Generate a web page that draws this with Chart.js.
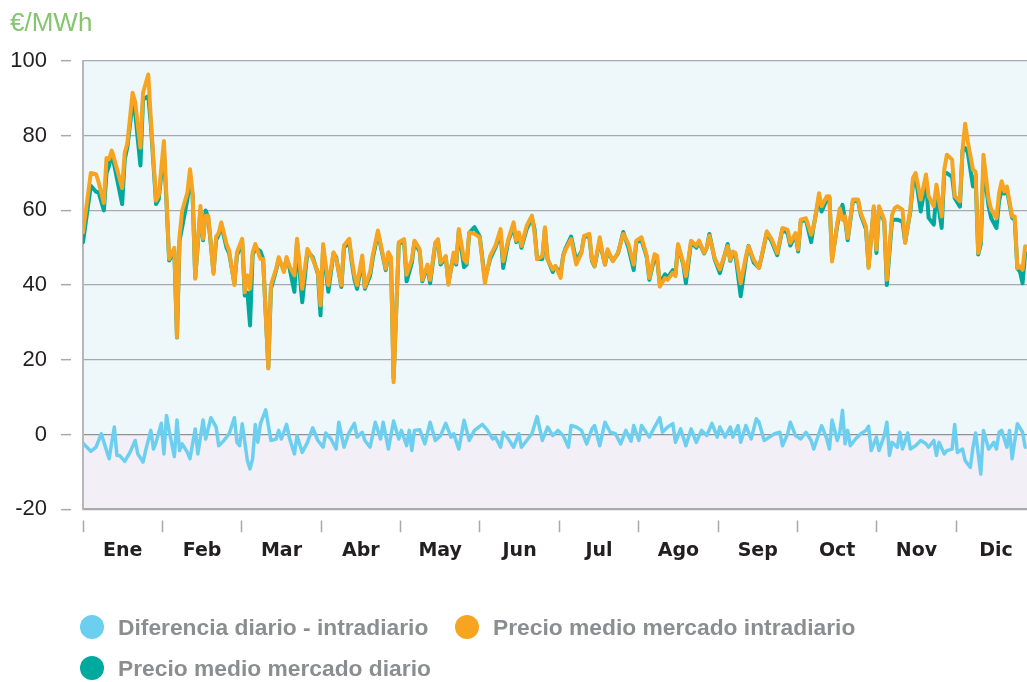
<!DOCTYPE html>
<html><head><meta charset="utf-8">
<script src="https://cdn.jsdelivr.net/npm/chart.js@4.4.1/dist/chart.umd.min.js"></script>
<style>
html,body{margin:0;padding:0;background:#fff;}
#wrap{position:relative;width:1027px;height:682px;overflow:hidden;}
canvas{display:block;}
.item{position:absolute;white-space:nowrap;display:flex;align-items:center;font-family:"Liberation Sans",Arial,sans-serif;font-weight:bold;font-size:22.8px;color:#8c8d91;height:24px;}
.dot{width:24px;height:24px;border-radius:50%;margin-right:14px;flex:none;}
</style></head><body>
<div id="wrap">
<canvas id="c" width="1027" height="682"></canvas>
<div class="item" style="left:80px;top:615px"><span class="dot" style="background:#6dcff0"></span>Diferencia diario - intradiario</div>
<div class="item" style="left:455px;top:615px"><span class="dot" style="background:#f7a520"></span>Precio medio mercado intradiario</div>
<div class="item" style="left:80px;top:656px"><span class="dot" style="background:#00a99d"></span>Precio medio mercado diario</div>
</div>
<script>
const meses = ['Ene','Feb','Mar','Abr','May','Jun','Jul','Ago','Sep','Oct','Nov','Dic'];
const yTicks = [-20, 0, 20, 40, 60, 80, 100];

// día del año de cada lectura de precio
const dias = [0,3,5,6,8,9,10,11,12,15,16,17,19,20,22,23,25,26,28,29,31,32,33,35,36,37,38,40,41,42,43,45,46,47,48,50,51,52,53,55,56,58,59,61,62,63,64,65,66,68,69,71,72,74,75,77,78,79,81,82,84,86,88,90,91,92,94,96,97,99,100,102,103,104,105,107,108,110,111,113,116,117,118,119,121,
123,124,126,127,129,130,132,133,135,136,137,139,140,142,143,144,146,147,148,150,152,154,156,158,160,161,163,165,166,167,168,170,172,173,174,176,177,178,180,181,183,184,185,187,189,191,192,194,195,196,198,199,200,201,203,205,207,209,211,212,214,216,217,219,220,221,223,224,226,227,228,230,231,233,235,236,238,239,240,242,244,
247,248,249,250,252,254,255,257,259,260,262,264,266,268,270,271,273,274,275,277,279,280,282,283,285,286,287,289,290,291,292,293,295,297,298,300,301,303,304,305,307,308,310,311,312,314,315,317,318,319,321,323,324,326,327,329,330,331,333,334,336,337,338,339,341,342,343,344,345,347,348,350,351,352,353,354,356,357,358,359,360,361];

const intradiario = [54.1,70,69.7,67.5,62,74,73.7,76,73.7,66,75.5,78,91.5,89,76.8,91.5,96.4,84.4,62.6,64,78.6,63,47,50,26.1,53.2,59.9,64.8,71,64.8,41.7,61.2,52.4,58.6,58.6,43,53,54,56.8,51,49.2,40,48.8,52.4,38.1,42.6,39,48.8,51,47,47,17.7,40,44.4,47.5,43.5,47.5,45.2,42.6,52.4,39,49.7,47,43.5,34.6,51,40,48.8,47,40,50.6,52.4,47,42.6,40,47.9,39.5,43.5,47.9,54.6,44.4,48.8,47.5,14,51.5,
52.3,42.8,46.9,51.9,49.6,41.4,45.5,41.4,51.4,52.3,46,47.8,40.1,48.7,46,55,46.9,46,54.1,53.7,52.8,40.5,47.8,50.5,55,46.4,52.3,56.8,51.9,54.1,50.5,55.9,58.6,54.1,46.9,47.8,55.5,46.9,44.2,45.1,41.9,47.8,49.6,52.3,45.5,48.7,53.2,53.7,46.9,45.1,52.8,48.7,45.5,49.6,46.4,48.7,53.7,51,45.5,51.9,52.8,47.8,41.9,48.3,47.8,39.6,41.9,41.4,43.3,42.4,51,46,42.4,51.9,50.5,51.9,48.7,50,53.2,47.3,44.2,
50.4,46.8,49,48.6,40.5,47.7,50.4,46.8,44.6,47.7,54.4,52.1,48.6,55.3,54.8,51.3,53.9,49.5,57.5,57.9,53.5,55.7,64.6,61.1,63.8,63.8,46.3,56.6,60.6,57.5,58.4,52.6,62.9,62.9,59.3,55.7,44.6,61.1,49.5,61.1,57.5,41.4,58.8,60.6,61.1,60.2,51.3,60.2,68.7,70,62.9,69.6,63.8,61.1,66.9,58.4,70.9,74.9,73.6,63.8,62.4,76.3,83.2,78.5,70.9,70.4,48.6,52.1,74.9,62.9,60.2,57.9,64.6,67.8,65.1,66.4,58.4,58.4,44.6,45,44.1,50.4];

const diario = [51.5,66.6,65,64.8,60,70,72,75.5,72,61.7,73.7,77,88.8,86,72,89.7,90.6,83,61.7,63,76,62,46.6,49,26,52,55.5,63,68,64,42,60,52,60,58,43.5,52,53.5,56,50,48.5,40.5,48,51.5,37.2,38,29.2,48,50,49,47,18,39,44,47,44,47,45,38.2,51.5,35.4,49,47.5,43,31.9,50,38.2,48.5,47.5,39.5,50,51.5,46,41.5,39,46.5,39,42.5,47,54,44,48,47,15,51,
52,41,46,51.5,49,41,45,40.5,51,52,45.5,47.5,40.5,48,45.5,54.5,44.8,45.5,54,55.5,53,41.5,47,50,54,44.6,52,55.5,51.5,53.5,50,55,58,55,47,47,55,47,43.5,45,43,48,50,53,46.5,49,53,53,46.5,45,52,48.5,45.5,49,46.5,48.5,54.2,50,44,51.5,52,47.5,41.4,47.5,46.5,40.5,42.9,42,44,42.9,50.5,45.5,40.5,51.5,50,51.5,48.5,50,53.7,47,43.2,
51,46.5,48.5,48,37,47,50.5,46,44.6,47.5,54,51.5,48,55,53.8,50.6,53.5,49,57,57.5,51.5,56,63.5,59.7,63,63.3,47,56,59.5,61.5,57.5,52,62.5,62.5,58.8,55,45,60.6,48.6,60.5,57,40,57.5,57.5,57.5,57,51.5,59.7,67,69,59.7,68,58,56.2,65,55.3,70,70,69,63.3,61,76,76.7,75.5,66.4,69.5,48.2,51,72,61.1,57.9,55.3,62.5,65.5,64.5,65.5,58,57.5,44.5,43.6,40.5,48.6];

// día del año de cada lectura de la diferencia
const difDias = [0,3,5,7,10,12,13,14,16,18,
20,21,23,24,26,27,28,30,31,32,
33,35,36,37,38,40,41,43,44,46,
47,49,51,52,54,56,58,59,60,61,
63,64,65,66,67,68,70,72,74,75,
76,78,79,81,82,84,86,88,90,92,
93,95,97,98,100,102,104,105,107,108,
110,112,114,115,117,119,121,122,124,125,
126,127,129,131,133,135,137,139,141,142,
144,146,148,150,153,155,157,158,160,161,
163,165,167,168,170,172,174,176,178,180,
182,184,186,187,189,191,193,195,196,198,
200,202,204,206,208,210,211,213,214,217,
219,221,222,224,226,227,229,231,233,235,
237,239,241,243,244,246,248,249,251,252,
254,256,258,259,261,263,265,267,268,270,
271,273,275,277,279,280,283,285,286,287,
289,290,291,292,293,294,296,298,300,301,
302,304,305,307,308,309,310,312,313,314,
316,317,319,321,323,324,326,327,328,330,
331,333,334,335,337,338,340,341,342,344,
345,347,349,350,351,352,354,355,356,358,
360,361];

const diferencia = [-2.3,-4.5,-3.4,0.2,-6.5,2,-5.6,-5.6,-7.2,-4.8,
-1.6,-5.2,-7.4,-4.3,1.1,-3.9,-2.1,3,-5.2,5.1,
1.1,-5.9,3.9,-4.3,-2.5,-4.8,-6.5,1.5,-5.2,3.9,
-1.2,4.5,2,-3,-1.6,0.2,4.5,-2.1,-3,2.9,
-7,-9.2,-6.5,2.7,-2.1,2.9,6.6,-1.6,-1.2,1.1,
-1.2,2.7,-0.7,-5.2,-0.3,-4.8,-2.1,1.8,-1.6,-3.4,
0.4,-1.2,-3.9,3.3,-3.4,0.6,3,-0.7,0.6,-1.6,
-3.4,3.3,-1.2,3.3,-3.9,3.6,-1.2,1.1,-3,1.1,
-4.3,1.1,1.3,-2.5,3.3,-1.6,-0.3,3,-0.7,0.2,
-3.9,3.8,-1.6,1.1,2.7,1.1,-1.2,-0.7,-3.4,0.6,
-1.2,-3.4,0.2,-3.4,-1.6,0.2,4.8,-1.6,2,-0.3,
1.1,-0.3,-3.4,2.4,2,1.1,-2.5,1.5,2.4,-3,
3.3,0.6,0.2,-2.5,1.1,-1.8,2.4,-1.6,2.4,-0.7,
2,4.5,0.6,2,2.9,-2.1,1.5,-3,1.5,-2.1,
1.1,-0.3,3,-0.7,2,-0.7,2,-0.7,2.4,-2.1,
2.4,-1.2,4.2,3.3,-1.6,-0.7,0.2,0.6,-3,0.2,
3.3,-0.3,-1.2,0.6,-1.6,-3.9,2.4,-1.2,-3.9,3.9,
-1.6,0.6,6.5,-2.5,1.1,-3,-1.2,0.2,1.1,2.2,
-4.3,-0.7,-4.3,-0.3,3.3,-5.6,-2.1,-3.4,0.6,-3.9,
0.4,-3.9,-3,-1.6,-2.5,-3.4,-1.6,-5.6,-2.1,-5.2,
-4.3,-3.9,2.7,-4.8,-3.9,-7,-8.8,-3.4,0.4,-10.6,
1.1,-3.9,-2.1,-3.9,0.6,1.1,-3.4,1.1,-6.5,2.9,
0.6,-3.4];

const MES = 365 / 12;
const GRIS = '#a7a9ac';

const toPts = (xs, ys) => xs.map((x, i) => ({x: x, y: ys[i]}));

const bgPlugin = {
  id: 'bg',
  beforeDraw(chart) {
    const {ctx, chartArea: a, scales: {y}} = chart;
    const z = y.getPixelForValue(0);
    ctx.save();
    ctx.fillStyle = '#eef8fb';
    ctx.fillRect(a.left, a.top, a.right - a.left, z - a.top);
    ctx.fillStyle = '#f2eff6';
    ctx.fillRect(a.left, z, a.right - a.left, a.bottom - z);
    ctx.restore();
  }
};

const lineDs = (label, data, color, w) => ({
  label, data, borderColor: color, backgroundColor: color, borderWidth: w,
  pointRadius: 0, tension: 0, borderJoinStyle: 'round', borderCapStyle: 'round', fill: false
});

new Chart(document.getElementById('c'), {
  type: 'line',
  data: {
    datasets: [
      lineDs('Precio medio mercado intradiario', toPts(dias, intradiario), '#f7a520', 4),
      lineDs('Precio medio mercado diario', toPts(dias, diario), '#00a99d', 4),
      lineDs('Diferencia diario - intradiario', toPts(difDias, diferencia), '#6dcff0', 3.5)
    ]
  },
  plugins: [bgPlugin],
  options: {
    responsive: false,
    animation: false,
    devicePixelRatio: 1,
    layout: {padding: {left: 10, right: 0, top: 8, bottom: 120}},
    plugins: {
      legend: {display: false},
      tooltip: {enabled: false},
      title: {
        display: true, text: '€/MWh', align: 'start', color: '#84c56e',
        font: {family: '"Liberation Sans", Arial, sans-serif', size: 26, weight: 'normal'},
        padding: {top: 0, bottom: 21.8}
      }
    },
    scales: {
      x: {
        type: 'linear', min: 0, max: 361.7,
        afterBuildTicks(scale) {
          const t = [];
          meses.forEach((m, i) => { t.push({value: i * MES}); t.push({value: (i + 0.5) * MES}); });
          scale.ticks = t;
        },
        afterFit(scale) { scale.height = 52.8; },
        ticks: {
          autoSkip: false, maxRotation: 0, minRotation: 0, padding: 7, color: '#231f20',
          font: {family: '"DejaVu Sans", sans-serif', size: 19, weight: 'bold'},
          callback: (v, i) => (i % 2 === 1 ? meses[(i - 1) / 2] : '')
        },
        grid: {
          drawOnChartArea: false, tickLength: 23, tickWidth: 1.5,
          tickColor: (ctx) => (ctx.index % 2 === 0 ? GRIS : 'rgba(0,0,0,0)'),
          tickBorderDash: [0, 11, 12, 100]
        },
        border: {display: true, color: GRIS, width: 1.5}
      },
      y: {
        min: -20, max: 100,
        afterBuildTicks(scale) { scale.ticks = yTicks.map(v => ({value: v})); },
        afterFit(scale) { scale.width = 73; },
        ticks: {
          padding: 14, color: '#231f20',
          font: {family: '"Liberation Sans", Arial, sans-serif', size: 22}
        },
        grid: {
          color: (ctx) => (ctx.tick && ctx.tick.value === 0 ? '#8f9194' : GRIS),
          lineWidth: 1.3, tickLength: 22, tickColor: GRIS, tickWidth: 1.5,
          tickBorderDash: [10, 12]
        },
        border: {display: true, color: '#b5b7ba', width: 2}
      }
    }
  }
});
</script>
</body></html>
